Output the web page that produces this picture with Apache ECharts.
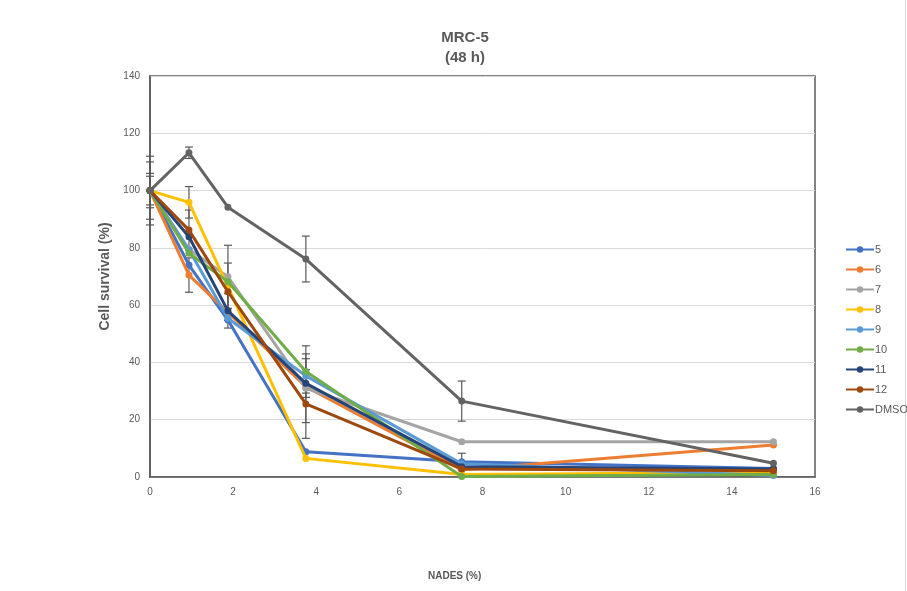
<!DOCTYPE html>
<html>
<head>
<meta charset="utf-8">
<script src="https://cdn.jsdelivr.net/npm/echarts@6/dist/echarts.min.js"></script>
<style>
html,body{margin:0;padding:0;background:#fff;}
#chart{width:907px;height:591px;}
</style>
</head>
<body>
<div id="chart"></div>
<script>
// ---- data ----
const xValues = [0, 0.9375, 1.875, 3.75, 7.5, 15];
const seriesNames = ['5', '6', '7', '8', '9', '10', '11', '12', 'DMSO'];
const colors = ['#4472C4', '#ED7D31', '#A5A5A5', '#FFC000', '#5B9BD5', '#70AD47', '#264478', '#9E480E', '#636363'];
const s5    = [100, 74.0, 54.8, 8.8, 5.3, 3.0];
const s6    = [100, 70.5, 57.5, 31.5, 2.5, 11.2];
const s7    = [100, 79.5, 69.9, 31.0, 12.3, 12.3];
const s8    = [100, 95.9, 66.5, 6.5, 0.9, 1.6];
const s9    = [100, 79.3, 55.4, 35.3, 4.6, 0.5];
const s10   = [100, 78.1, 68.2, 36.8, 0.2, 0.9];
const s11   = [100, 83.9, 58.0, 32.7, 3.6, 2.8];
const s12   = [100, 86.2, 64.7, 25.5, 2.8, 2.2];
const sDMSO = [100, 113.2, 94.2, 76.1, 26.5, 4.8];
// error (± values)
const e5    = [6, 0, 0, 0, 3, 0];
const e6    = [10, 6, 0, 0, 0, 0];
const e7    = [0, 0, 11, 12, 0, 0];
const e8    = [12, 5.5, 0, 0, 0, 0];
const e9    = [0, 0, 0, 6, 0, 0];
const e10   = [0, 0, 0, 9, 0, 0];
const e11   = [0, 0, 6, 0, 0, 0];
const e12   = [0, 7, 10, 12, 0, 0];
const eDMSO = [5, 2, 0, 8, 7, 0];
const yTicks = [0, 20, 40, 60, 80, 100, 120, 140];
const xTicks = [0, 2, 4, 6, 8, 10, 12, 14, 16];

const allVals = [s5, s6, s7, s8, s9, s10, s11, s12, sDMSO];
const allErr = [e5, e6, e7, e8, e9, e10, e11, e12, eDMSO];

const chart = echarts.init(document.getElementById('chart'));
const font = "'Liberation Sans', Arial, sans-serif";
const txt = '#595959';

const series = [];
// error bars
const errData = [];
allVals.forEach((vals, i) => {
  vals.forEach((v, j) => {
    if (allErr[i][j] > 0) errData.push([xValues[j], v - allErr[i][j], v + allErr[i][j]]);
  });
});
series.push({
  type: 'custom',
  name: 'err',
  z: 1,
  silent: true,
  data: errData,
  encode: { x: 0, y: [1, 2] },
  renderItem: function (params, api) {
    const x = api.value(0);
    const lo = api.coord([x, api.value(1)]);
    const hi = api.coord([x, api.value(2)]);
    const w = 4;
    const st = { stroke: '#595959', lineWidth: 1.2 };
    return {
      type: 'group',
      children: [
        { type: 'line', shape: { x1: lo[0], y1: lo[1], x2: hi[0], y2: hi[1] }, style: st },
        { type: 'line', shape: { x1: lo[0] - w, y1: lo[1], x2: lo[0] + w, y2: lo[1] }, style: st },
        { type: 'line', shape: { x1: hi[0] - w, y1: hi[1], x2: hi[0] + w, y2: hi[1] }, style: st }
      ]
    };
  }
});
seriesNames.forEach((n, i) => {
  series.push({
    type: 'line',
    name: n,
    z: 2 + i,
    data: xValues.map((x, j) => [x, allVals[i][j]]),
    symbol: 'circle',
    symbolSize: 7,
    lineStyle: { width: 3, color: colors[i] },
    itemStyle: { color: colors[i] },
    emphasis: { disabled: true }
  });
});

chart.setOption({
  animation: false,
  backgroundColor: '#fff',
  color: colors,
  title: {
    text: 'MRC-5\n(48 h)',
    left: 460,
    textAlign: 'center',
    top: 23,
    textStyle: { fontFamily: font, fontSize: 15, fontWeight: 'bold', color: txt, lineHeight: 20 }
  },
  legend: {
    data: seriesNames,
    orient: 'vertical',
    left: 840,
    top: 239,
    itemWidth: 28,
    itemHeight: 8,
    itemGap: 9,
    textStyle: { fontFamily: font, fontSize: 11, color: txt, padding: [0, 0, 0, -4] }
  },
  grid: {
    left: 150, right: 92, top: 76, bottom: 114,
    show: true, borderColor: '#595959', borderWidth: 1.5, backgroundColor: 'transparent'
  },
  xAxis: {
    type: 'value',
    min: 0, max: 16, interval: 2,
    axisLine: { show: true, lineStyle: { color: '#595959', width: 1.5 } },
    axisTick: { show: false },
    splitLine: { show: false },
    axisLabel: { fontFamily: font, fontSize: 10, color: txt, margin: 10 }
  },
  yAxis: {
    type: 'value',
    min: 0, max: 140, interval: 20,
    name: 'Cell survival (%)',
    nameLocation: 'middle',
    nameGap: 38,
    nameRotate: 90,
    nameTextStyle: { fontFamily: font, fontSize: 14, fontWeight: 'bold', color: txt },
    axisLine: { show: true, lineStyle: { color: '#595959', width: 1.5 } },
    axisTick: { show: false },
    splitLine: { show: true, lineStyle: { color: '#D9D9D9', width: 1 } },
    axisLabel: { fontFamily: font, fontSize: 10, color: txt, margin: 10 }
  },
  graphic: [
    {
      type: 'text', left: 428, top: 571,
      style: { text: 'NADES (%)', fontFamily: font, fontSize: 10, fontWeight: 'bold', fill: txt }
    },
    {
      type: 'line', shape: { x1: 905.5, y1: 0, x2: 905.5, y2: 591 },
      style: { stroke: '#D9D9D9', lineWidth: 1 }
    }
  ],
  series: series
});
</script>
</body>
</html>
